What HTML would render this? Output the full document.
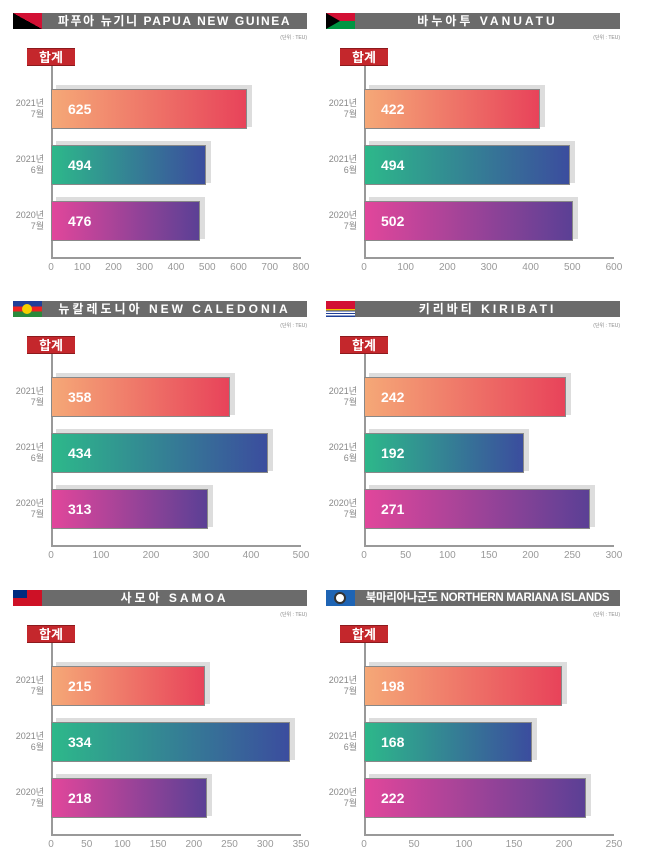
<!DOCTYPE html>
<html><head><meta charset="utf-8"><style>
*{margin:0;padding:0;box-sizing:border-box}
body{width:652px;height:861px;background:#fff;position:relative;overflow:hidden;font-family:"Liberation Sans","Noto Sans CJK KR",sans-serif}
.p{position:absolute;width:310px;height:285px}
.fl{position:absolute;left:13px;top:13px;width:29px;height:16px;overflow:hidden}
.hd{position:absolute;left:42px;top:13px;width:265px;height:16px;background:#6b6b6b;color:#fff;font-weight:bold;font-size:12px;line-height:16px;text-align:center;letter-spacing:3px;white-space:nowrap}
.un{position:absolute;right:3px;top:34px;font-size:5px;color:#888}
.tg{position:absolute;left:27px;top:48px;width:48px;height:18px;background:#c4272c;color:#fff;font-weight:bold;font-size:13px;line-height:18px;text-align:center;border-top:1px solid #8c1a1d;border-bottom:1px solid #8c1a1d}
.va{position:absolute;left:51px;top:66px;width:1.5px;height:192px;background:#999}
.ha{position:absolute;left:51px;top:257px;width:250px;height:1.5px;background:#999}
.sh{position:absolute;left:56px;height:42px;background:#ddd}
.b{position:absolute;left:51px;height:40px;border:1px solid #888;color:#fff;font-weight:bold;font-size:14px;line-height:38px;padding-left:16px}
.b1{background:linear-gradient(90deg,#f5a877,#e8435a)}
.b2{background:linear-gradient(90deg,#2db88a,#3b4d9e)}
.b3{background:linear-gradient(90deg,#e1469b,#5b4095)}
.yl{position:absolute;right:266px;font-size:9px;color:#888;text-align:right;line-height:11px}
.tk{position:absolute;left:51px;top:262px;width:250px;display:flex;justify-content:space-between}
.tk span{width:0;display:flex;justify-content:center;white-space:nowrap;font-size:10px;color:#999}
</style></head><body>

<!-- PNG -->
<div class="p" style="left:0;top:0">
<div class="fl" style="background:linear-gradient(to top right,#000 50%,#d21034 50%)"></div>
<div class="hd" style="letter-spacing:1.6px">파푸아 뉴기니 PAPUA NEW GUINEA</div>
<div class="un">(단위 : TEU)</div><div class="tg">합계</div>
<div class="va"></div><div class="ha"></div>
<div class="sh" style="top:85px;width:196px"></div><div class="b b1" style="top:89px;width:196px">625</div>
<div class="sh" style="top:141px;width:155px"></div><div class="b b2" style="top:145px;width:155px">494</div>
<div class="sh" style="top:197px;width:149px"></div><div class="b b3" style="top:201px;width:149px">476</div>
<div class="yl" style="top:98px">2021년<br>7월</div><div class="yl" style="top:154px">2021년<br>6월</div><div class="yl" style="top:210px">2020년<br>7월</div>
<div class="tk"><span>0</span><span>100</span><span>200</span><span>300</span><span>400</span><span>500</span><span>600</span><span>700</span><span>800</span></div>
</div>

<!-- Vanuatu -->
<div class="p" style="left:313px;top:0">
<div class="fl" style="background:linear-gradient(#d21034 50%,#009543 50%)"><div style="position:absolute;left:0;top:0;border-left:14px solid #000;border-top:8px solid transparent;border-bottom:8px solid transparent"></div></div>
<div class="hd">바누아투 VANUATU</div>
<div class="un">(단위 : TEU)</div><div class="tg">합계</div>
<div class="va"></div><div class="ha"></div>
<div class="sh" style="top:85px;width:176px"></div><div class="b b1" style="top:89px;width:176px">422</div>
<div class="sh" style="top:141px;width:206px"></div><div class="b b2" style="top:145px;width:206px">494</div>
<div class="sh" style="top:197px;width:209px"></div><div class="b b3" style="top:201px;width:209px">502</div>
<div class="yl" style="top:98px">2021년<br>7월</div><div class="yl" style="top:154px">2021년<br>6월</div><div class="yl" style="top:210px">2020년<br>7월</div>
<div class="tk"><span>0</span><span>100</span><span>200</span><span>300</span><span>400</span><span>500</span><span>600</span></div>
</div>

<!-- New Caledonia -->
<div class="p" style="left:0;top:288px">
<div class="fl" style="background:linear-gradient(#1f3f99 33%,#e22 33%,#e22 66%,#2a8a3c 66%)"><div style="position:absolute;left:9px;top:3px;width:10px;height:10px;border-radius:50%;background:#f5d000"></div></div>
<div class="hd">뉴칼레도니아 NEW CALEDONIA</div>
<div class="un">(단위 : TEU)</div><div class="tg">합계</div>
<div class="va"></div><div class="ha"></div>
<div class="sh" style="top:85px;width:179px"></div><div class="b b1" style="top:89px;width:179px">358</div>
<div class="sh" style="top:141px;width:217px"></div><div class="b b2" style="top:145px;width:217px">434</div>
<div class="sh" style="top:197px;width:157px"></div><div class="b b3" style="top:201px;width:157px">313</div>
<div class="yl" style="top:98px">2021년<br>7월</div><div class="yl" style="top:154px">2021년<br>6월</div><div class="yl" style="top:210px">2020년<br>7월</div>
<div class="tk"><span>0</span><span>100</span><span>200</span><span>300</span><span>400</span><span>500</span></div>
</div>

<!-- Kiribati -->
<div class="p" style="left:313px;top:288px">
<div class="fl" style="background:linear-gradient(#d21034 50%,#f5c000 50%,#f5c000 58%,#1f3f99 58%,#1f3f99 66%,#fff 66%,#fff 74%,#1f3f99 74%,#1f3f99 82%,#fff 82%,#fff 90%,#1f3f99 90%)"></div>
<div class="hd">키리바티 KIRIBATI</div>
<div class="un">(단위 : TEU)</div><div class="tg">합계</div>
<div class="va"></div><div class="ha"></div>
<div class="sh" style="top:85px;width:202px"></div><div class="b b1" style="top:89px;width:202px">242</div>
<div class="sh" style="top:141px;width:160px"></div><div class="b b2" style="top:145px;width:160px">192</div>
<div class="sh" style="top:197px;width:226px"></div><div class="b b3" style="top:201px;width:226px">271</div>
<div class="yl" style="top:98px">2021년<br>7월</div><div class="yl" style="top:154px">2021년<br>6월</div><div class="yl" style="top:210px">2020년<br>7월</div>
<div class="tk"><span>0</span><span>50</span><span>100</span><span>150</span><span>200</span><span>250</span><span>300</span></div>
</div>

<!-- Samoa -->
<div class="p" style="left:0;top:577px">
<div class="fl" style="background:#ce1126"><div style="position:absolute;left:0;top:0;width:14px;height:8px;background:#002b7f"></div></div>
<div class="hd">사모아 SAMOA</div>
<div class="un">(단위 : TEU)</div><div class="tg">합계</div>
<div class="va"></div><div class="ha"></div>
<div class="sh" style="top:85px;width:154px"></div><div class="b b1" style="top:89px;width:154px">215</div>
<div class="sh" style="top:141px;width:239px"></div><div class="b b2" style="top:145px;width:239px">334</div>
<div class="sh" style="top:197px;width:156px"></div><div class="b b3" style="top:201px;width:156px">218</div>
<div class="yl" style="top:98px">2021년<br>7월</div><div class="yl" style="top:154px">2021년<br>6월</div><div class="yl" style="top:210px">2020년<br>7월</div>
<div class="tk"><span>0</span><span>50</span><span>100</span><span>150</span><span>200</span><span>250</span><span>300</span><span>350</span></div>
</div>

<!-- NMI -->
<div class="p" style="left:313px;top:577px">
<div class="fl" style="background:#1e64b4"><div style="position:absolute;left:8px;top:2px;width:12px;height:12px;border-radius:50%;background:#fff;border:2px solid #333"></div></div>
<div class="hd" style="letter-spacing:-0.3px;font-size:11.5px">북마리아나군도 NORTHERN MARIANA ISLANDS</div>
<div class="un">(단위 : TEU)</div><div class="tg">합계</div>
<div class="va"></div><div class="ha"></div>
<div class="sh" style="top:85px;width:198px"></div><div class="b b1" style="top:89px;width:198px">198</div>
<div class="sh" style="top:141px;width:168px"></div><div class="b b2" style="top:145px;width:168px">168</div>
<div class="sh" style="top:197px;width:222px"></div><div class="b b3" style="top:201px;width:222px">222</div>
<div class="yl" style="top:98px">2021년<br>7월</div><div class="yl" style="top:154px">2021년<br>6월</div><div class="yl" style="top:210px">2020년<br>7월</div>
<div class="tk"><span>0</span><span>50</span><span>100</span><span>150</span><span>200</span><span>250</span></div>
</div>

</body></html>
